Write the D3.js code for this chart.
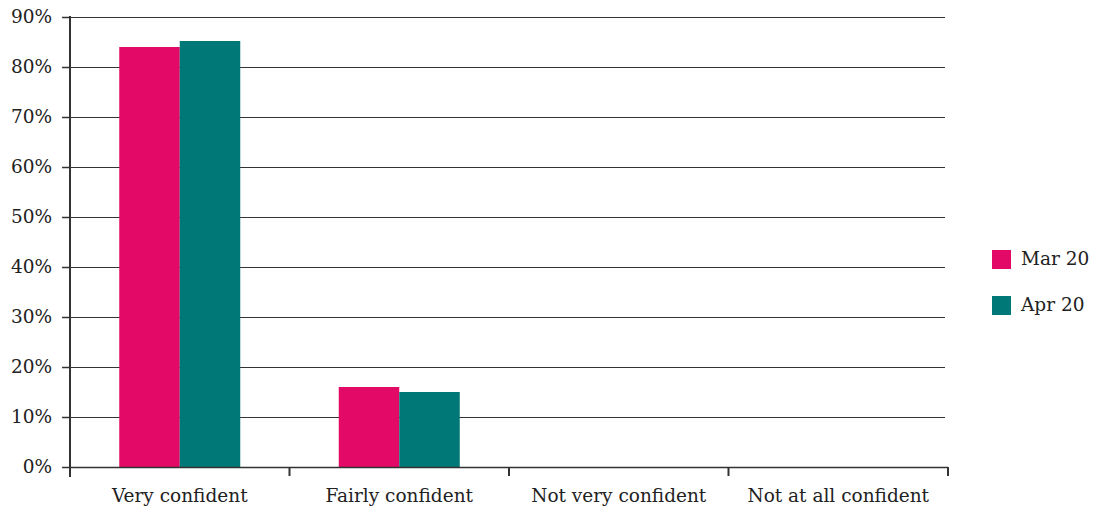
<!DOCTYPE html>
<html><head><meta charset="utf-8">
<script src="https://cdn.jsdelivr.net/npm/d3@7"></script>
<style>body{margin:0;background:#fff}svg{display:block}</style>
</head><body>
<svg id="c" width="1093" height="506"></svg>
<script>
const categories = ["Very confident","Fairly confident","Not very confident","Not at all confident"];
const seriesNames = ["Mar 20","Apr 20"];
const mar20 = [84, 16, 0, 0];
const apr20 = [85.2, 15, 0, 0];
const yTicks = [0,10,20,30,40,50,60,70,80,90];
const colors = ["#E20A66","#007878"];

(function(){
const svg = d3.select("#c");
const font = "'DejaVu Serif', 'Liberation Serif', serif";
const fs = 18.5;
const pL = 70, pR = 948, pT = 17, pB = 467;
const x = d3.scaleBand().domain(categories).range([pL, pR]).paddingInner(0).paddingOuter(0);
const y = d3.scaleLinear().domain([0,90]).range([pB, pT]);
const bw = 60.5;

// gridlines
svg.append("g").selectAll("line").data(yTicks.filter(d=>d>0)).join("line")
  .attr("x1", pL).attr("x2", 945)
  .attr("y1", d=>Math.round(y(d))+0.5).attr("y2", d=>Math.round(y(d))+0.5)
  .attr("stroke","#333").attr("stroke-width",1.2);

// y tick marks and labels
const ya = svg.append("g");
ya.selectAll("line").data(yTicks).join("line")
  .attr("x1", 62).attr("x2", pL)
  .attr("y1", d=>Math.round(y(d))+0.5).attr("y2", d=>Math.round(y(d))+0.5)
  .attr("stroke","#333").attr("stroke-width",1.5);
ya.selectAll("text").data(yTicks).join("text")
  .attr("x", 52).attr("y", d=>y(d)+6)
  .attr("text-anchor","end").attr("font-family",font).attr("font-size",fs).attr("fill","#222")
  .text(d=>d+"%");

// bars
const data = [mar20, apr20];
data.forEach((vals, si) => {
  svg.append("g").selectAll("rect").data(categories).join("rect")
    .attr("x", (c)=> x(c) + x.bandwidth()/2 - bw + si*bw)
    .attr("width", bw)
    .attr("y", (c,i)=> y(vals[i]))
    .attr("height", (c,i)=> y(0) - y(vals[i]))
    .attr("fill", colors[si]);
});

// x axis
svg.append("line").attr("x1", pL).attr("x2", pR).attr("y1", pB+0.5).attr("y2", pB+0.5)
  .attr("stroke","#333").attr("stroke-width",1.5);
const xt = categories.map(c=>x(c)).concat([pR]);
svg.append("g").selectAll("line").data(xt).join("line")
  .attr("x1", d=>d).attr("x2", d=>d).attr("y1", pB).attr("y2", 476)
  .attr("stroke","#333").attr("stroke-width",2);
// y axis line
svg.append("line").attr("x1", pL).attr("x2", pL).attr("y1", pT-1).attr("y2", 477)
  .attr("stroke","#333").attr("stroke-width",2);

svg.append("g").selectAll("text").data(categories).join("text")
  .attr("x", c=> x(c)+x.bandwidth()/2).attr("y", 502)
  .attr("text-anchor","middle").attr("font-family",font).attr("font-size",fs).attr("fill","#222")
  .text(c=>c);

// legend
const lg = svg.append("g");
seriesNames.forEach((n,i)=>{
  lg.append("rect").attr("x",992).attr("y",250+i*46).attr("width",19).attr("height",19).attr("fill",colors[i]);
  lg.append("text").attr("x",1021).attr("y",265+i*46).attr("font-family",font).attr("font-size",fs).attr("fill","#222").text(n);
});
})();
</script>
</body></html>
